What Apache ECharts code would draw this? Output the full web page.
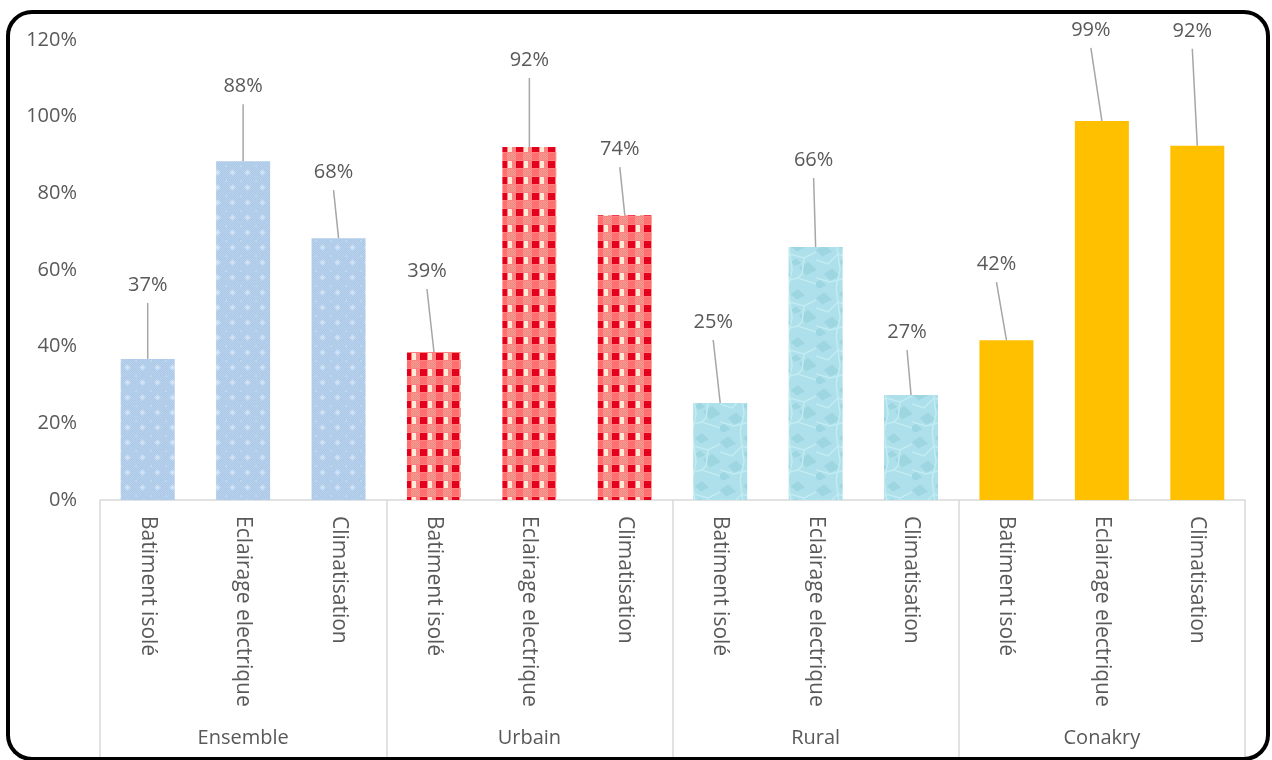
<!DOCTYPE html>
<html>
<head>
<meta charset="utf-8">
<style>
  html, body { margin: 0; padding: 0; background: #ffffff; }
  #chart { width: 1272px; height: 760px; }
</style>
<script src="https://cdn.jsdelivr.net/npm/echarts@6/dist/echarts.min.js"></script>
</head>
<body>
<div id="chart"></div>
<script>
// Groups and usage categories
const groups = ['Ensemble', 'Urbain', 'Rural', 'Conakry'];
const usages = ['Batiment isolé', 'Eclairage electrique', 'Climatisation'];

// Share of households (%), three usages per group
const ensembleValues = [36.8, 88.4, 68.3];
const urbainValues   = [38.6, 92.1, 74.3];
const ruralValues    = [25.3, 66.0, 27.4];
const conakryValues  = [41.7, 98.9, 92.4];

// Y axis ticks
const yTicks = [0, 20, 40, 60, 80, 100, 120];

// ---------- derived series ----------
const categories = [];
groups.forEach(() => usages.forEach(u => categories.push(u)));
const groupValues = [ensembleValues, urbainValues, ruralValues, conakryValues];
const values = [].concat(...groupValues);

// Label placement (pixels from the bar top centre to the label centre)
const labelShift = [
  [0, -74], [0, -75], [-5, -66],
  [-7, -81], [0, -87], [-5, -66],
  [-7, -81], [-2, -87], [-4, -63],
  [-10, -76], [-11, -91], [-5, -115]
];

const FONT = '"Open Sans", "Noto Sans", sans-serif';
const TEXT = '#595959';
const GRAY = '#d9d9d9';

// ---------- texture tiles ----------
function tile(w, h, draw) {
  const c = document.createElement('canvas');
  c.width = w; c.height = h;
  draw(c.getContext('2d'), w, h);
  return c;
}

// light blue quilted texture
const bluePattern = tile(15, 15, (g, w, h) => {
  g.fillStyle = '#b7d0ec'; g.fillRect(0, 0, w, h);
  for (let y = 0; y < h; y++) for (let x = 0; x < w; x++) {
    if ((x + y) % 2 === 0) { g.fillStyle = '#adc9e8'; g.fillRect(x, y, 1, 1); }
  }
  g.fillStyle = '#c6dbf2';
  g.beginPath(); g.moveTo(7.5, 4); g.lineTo(11, 7.5); g.lineTo(7.5, 11); g.lineTo(4, 7.5); g.closePath(); g.fill();
  g.fillStyle = '#d6e7f8'; g.fillRect(6.5, 6.5, 2, 2);
  g.fillStyle = '#c0d7f0'; g.fillRect(0, 0, 2, 2);
});

// red gingham
const redPattern = tile(16, 16, (g, w, h) => {
  g.fillStyle = '#ff8282'; g.fillRect(0, 0, w, h);
  g.fillStyle = '#e2001c'; g.fillRect(4, 1, 7, 7);
  g.fillStyle = '#fdebd8'; g.fillRect(12, 1, 4, 7);
  for (let y = 9; y < 16; y++) for (let x = 0; x < w; x++) {
    if ((x + y) % 2 === 0 && (x < 4 || x > 10)) { g.fillStyle = '#e7a18e'; g.fillRect(x, y, 1, 1); }
  }
  g.fillStyle = '#ff6f6f'; g.fillRect(4, 9, 7, 7);
});

// aqua water texture
const aquaPattern = tile(48, 48, (g, w, h) => {
  g.fillStyle = '#ade0ea'; g.fillRect(0, 0, w, h);
  const blobs = [[8, 10, 8], [30, 6, 7], [40, 28, 9], [16, 34, 8], [28, 22, 5], [4, 44, 6]];
  blobs.forEach(([cx, cy, r]) => {
    g.fillStyle = '#9dd5e1';
    g.beginPath();
    g.moveTo(cx - r, cy); g.lineTo(cx, cy - r * 0.7); g.lineTo(cx + r, cy + r * 0.2); g.lineTo(cx - r * 0.2, cy + r * 0.8);
    g.closePath(); g.fill();
  });
  g.strokeStyle = '#c2ebf2'; g.lineWidth = 1.5;
  g.beginPath();
  g.moveTo(0, 20); g.lineTo(12, 24); g.lineTo(22, 14); g.lineTo(36, 18); g.lineTo(48, 12);
  g.moveTo(20, 0); g.lineTo(22, 14); g.lineTo(24, 30); g.lineTo(20, 48);
  g.moveTo(0, 38); g.lineTo(14, 42); g.lineTo(30, 38); g.lineTo(48, 44);
  g.moveTo(36, 18); g.lineTo(34, 34); g.lineTo(30, 38);
  g.stroke();
});

const groupFills = [
  { image: bluePattern, repeat: 'repeat' },
  { image: redPattern, repeat: 'repeat' },
  { image: aquaPattern, repeat: 'repeat' },
  '#ffc000'
];

const barData = values.map((v, i) => ({
  value: v,
  itemStyle: { color: groupFills[Math.floor(i / usages.length)] }
}));

const labelData = values.map((v, i) => [i, v]);

const chart = echarts.init(document.getElementById('chart'), null, { renderer: 'canvas' });

chart.setOption({
  animation: false,
  backgroundColor: '#ffffff',
  textStyle: { fontFamily: FONT },
  grid: { left: 100, right: 27, top: 40, bottom: 260 },
  xAxis: [
    {
      type: 'category',
      data: categories,
      position: 'bottom',
      axisLine: { show: false },
      axisTick: { show: false },
      axisLabel: {
        interval: 0, rotate: -90, margin: 16,
        fontSize: 21, color: TEXT, fontFamily: FONT
      }
    },
    {
      type: 'category',
      data: groups,
      position: 'bottom',
      offset: 0,
      axisLine: { show: true, lineStyle: { color: GRAY, width: 1.5 } },
      axisTick: { show: true, interval: 0, length: 260, lineStyle: { color: GRAY, width: 1.5 } },
      axisLabel: { interval: 0, margin: 228, fontSize: 20, color: TEXT, fontFamily: FONT }
    }
  ],
  yAxis: {
    type: 'value',
    min: yTicks[0],
    max: yTicks[yTicks.length - 1],
    interval: yTicks[1] - yTicks[0],
    axisLine: { show: false },
    axisTick: { show: false },
    splitLine: { show: false },
    axisLabel: {
      formatter: '{value}%', margin: 23,
      fontSize: 20, color: TEXT, fontFamily: FONT
    }
  },
  series: [
    {
      type: 'bar',
      xAxisIndex: 0,
      barWidth: 54,
      data: barData
    },
    {
      // value labels with leader lines
      type: 'custom',
      xAxisIndex: 0,
      clip: false,
      z: 10,
      data: labelData,
      renderItem: (params, api) => {
        const i = params.dataIndex;
        const v = api.value(1);
        const top = api.coord([api.value(0), v]);
        const [dx, dy] = labelShift[i];
        const lx = top[0] + dx;
        const ly = top[1] + dy;
        return {
          type: 'group',
          children: [
            {
              type: 'line',
              shape: { x1: top[0], y1: top[1], x2: lx, y2: ly + 18 },
              style: { stroke: '#a6a6a6', lineWidth: 1.5 }
            },
            {
              type: 'text',
              style: {
                text: Math.round(v) + '%',
                x: lx, y: ly,
                align: 'center', verticalAlign: 'middle',
                font: '20px ' + FONT,
                fill: TEXT
              }
            }
          ]
        };
      }
    }
  ],
  graphic: [
    {
      type: 'rect',
      shape: { x: 8, y: 12, width: 1260, height: 747, r: 24 },
      style: { fill: null, stroke: '#000000', lineWidth: 4 },
      silent: true,
      z: 100
    }
  ]
});
</script>
</body>
</html>
